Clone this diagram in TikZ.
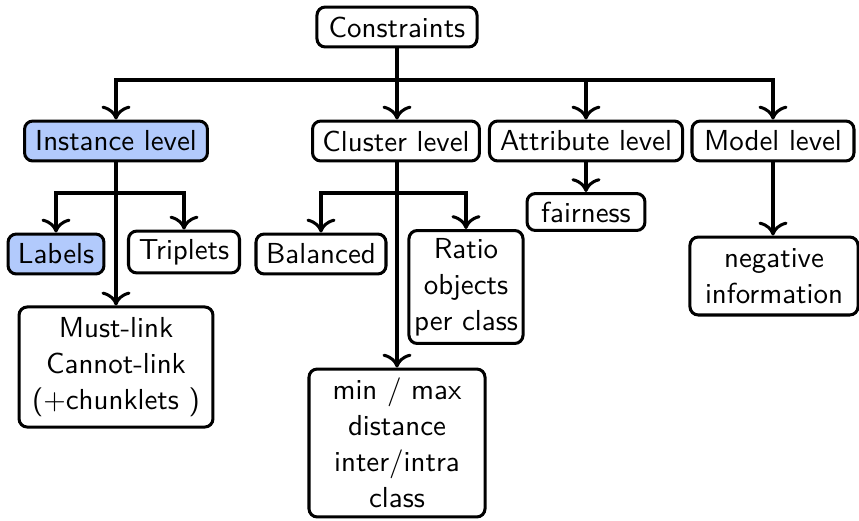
\documentclass[tikz,border=0pt]{standalone}
\usetikzlibrary{calc,arrows.meta}
\definecolor{lvlblue}{RGB}{178,202,252}
\begin{document}
\begin{tikzpicture}[x=0.363pt,y=-0.363pt,
  font=\sffamily\fontsize{10.5}{13}\selectfont,
  box/.style={draw,line width=1.1pt,rounded corners=3pt,align=center,inner sep=1pt,
    minimum height=14.5pt},
  hl/.style={fill=lvlblue},
  conn/.style={line width=1.1pt,-{To[scale=1.25]}},
  lnk/.style={line width=1.1pt}]
\useasboundingbox (0,0) rectangle (859,520);
\node[box,minimum width=58.1pt] (c) at (397,27) {Constraints};
\node[box,hl,minimum width=66.4pt] (inst) at (116,141) {Instance level};
\node[box,minimum width=60.6pt] (clu) at (396,141) {Cluster level};
\node[box,minimum width=70.1pt] (att) at (586,141) {Attribute level};
\node[box,minimum width=58.8pt] (mod) at (773,141) {Model level};
\node[box,hl,minimum width=34.8pt] (lab) at (56,254) {Labels};
\node[box,minimum width=40.3pt,minimum height=15.2pt] (tri) at (184,252) {Triplets};
\node[box,minimum width=70.4pt,minimum height=43.6pt] (must) at (116,367) {Must-link\\Cannot-link\\(+chunklets )};
\node[box,minimum width=47.2pt] (bal) at (321,254) {Balanced};
\node[box,minimum width=41.4pt,minimum height=41pt] (rat) at (466,287) {Ratio\\objects\\per class};
\node[box,minimum width=63.9pt,minimum height=53.7pt] (mm) at (397,443) {min / max\\distance\\inter/intra\\class};
\node[box,minimum width=42.8pt,minimum height=13.4pt] (fair) at (586,212) {fairness};
\node[box,minimum width=61pt,minimum height=28.3pt] (neg) at (774,276) {negative\\information};
\coordinate (bar) at (397,80);
\draw[lnk] (c.south) -- (bar);
\draw[conn] (bar) -| (inst.north);
\draw[conn] (bar) -- (clu.north -| bar);
\draw[conn] (bar) -| (att.north);
\draw[conn] (bar) -| (mod.north);
\coordinate (ib) at (116,193);
\draw[lnk] (inst.south) -- (ib);
\draw[conn] (ib) -| (lab.north);
\draw[conn] (ib) -| (tri.north);
\draw[conn] (ib) -- (must.north);
\coordinate (cb) at (397,193);
\draw[lnk] (clu.south -| cb) -- (cb);
\draw[conn] (cb) -| (bal.north);
\draw[conn] (cb) -| (rat.north);
\draw[conn] (cb) -- (mm.north);
\draw[conn] (att.south -| fair.north) -- (fair.north);
\draw[conn] (mod.south) -- (mod.south |- neg.north);
\end{tikzpicture}
\end{document}
